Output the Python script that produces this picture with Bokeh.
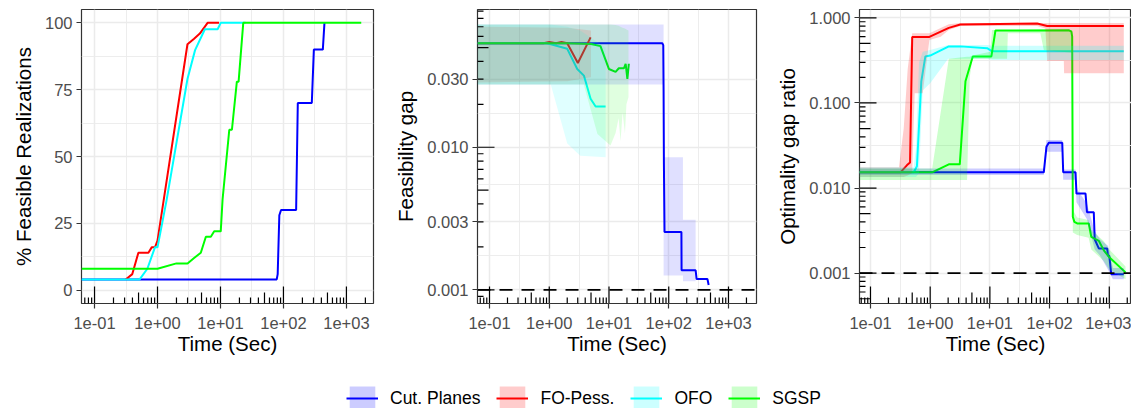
import numpy as np
from bokeh.plotting import figure
from bokeh.models import Range1d, FixedTicker, Legend, LegendItem, Span
from bokeh.layouts import column, row
from bokeh.embed import file_html
from bokeh.resources import INLINE

FONT = "Liberation Sans"

series_names = ["Cut. Planes", "FO-Pess.", "OFO", "SGSP"]
series_colors = ["#0000ff", "#ff0000", "#00ffff", "#00ff00"]

x_ticks = [0.1, 1, 10, 100, 1000]
x_tick_labels = ["1e-01", "1e+00", "1e+01", "1e+02", "1e+03"]
x_label = "Time (Sec)"

# ---------------- Panel 1: % feasible realizations ----------------
p1_ylabel = "% Feasible Realizations"
p1_yticks = [0, 25, 50, 75, 100]
p1_ytick_labels = ["0", "25", "50", "75", "100"]

feas_cp_t = [0.062, 78.2, 81, 86, 91.6, 159, 169, 282, 304, 422, 448]
feas_cp_v = [4, 4, 6, 28, 30, 30, 70, 70, 90, 90, 100]
feas_fo_t = [0.312, 0.398, 0.497, 0.717, 0.809, 0.912, 1.0, 2.99, 3.77, 4.7, 6.24, 9.5]
feas_fo_v = [4, 6, 14, 14, 16, 16, 18.5, 92, 94, 96, 100, 100]
feas_ofo_t = [0.062, 0.52, 0.69, 0.91, 1.0, 1.39, 2.99, 3.95, 5.65, 9.0, 10.1, 25]
feas_ofo_v = [4, 4, 8, 16, 16, 33.5, 79, 89.8, 97.6, 97.6, 100, 100]
feas_sg_t = [0.062, 1.0, 2.0, 3.0, 3.81, 4.87, 5.86, 7.03, 7.95, 10.1, 10.8, 13.8, 15.2, 18.2, 19.4, 23, 1720]
feas_sg_v = [8, 8, 10, 10, 12, 14, 20, 20, 22, 22, 34, 60, 60, 78, 78, 100, 100]

# ---------------- Panel 2: feasibility gap ----------------
p2_ylabel = "Feasibility gap"
p2_yticks = [0.001, 0.003, 0.01, 0.03]
p2_ytick_labels = ["0.001", "0.003", "0.010", "0.030"]
p2_threshold = 0.001

gap_cp_t = [0.063, 78, 81, 82, 83, 85, 163, 164, 282, 293, 444, 466]
gap_cp_g = [0.0536, 0.0536, 0.052, 0.025, 0.0077, 0.00254, 0.00254, 0.00137, 0.00137, 0.00119, 0.00119, 0.00108]
gap_fo_t = [0.063, 0.8, 1.0, 1.3, 1.6, 2.0, 3.01, 4.92]
gap_fo_g = [0.0536, 0.0536, 0.0548, 0.0536, 0.0548, 0.0536, 0.039, 0.059]
gap_ofo_t = [0.063, 0.925, 2.0, 2.94, 3.8, 4.92, 5.97, 8.77]
gap_ofo_g = [0.0536, 0.0536, 0.049, 0.0354, 0.0318, 0.0219, 0.0193, 0.0193]
gap_sg_t = [0.063, 2.0, 5.0, 7.2, 9.96, 12.9, 14.6, 17.8, 19.0, 20.3, 21.5]
gap_sg_g = [0.0536, 0.0536, 0.053, 0.0512, 0.0354, 0.0338, 0.0358, 0.0358, 0.0385, 0.0302, 0.0385]

gap_cp_band_t = [0.063, 82, 82, 173, 173, 282]
gap_cp_band_lo = [0.0275, 0.0275, 0.00126, 0.00126, 0.00115, 0.00115]
gap_cp_band_hi = [0.0726, 0.0726, 0.0085, 0.0085, 0.0031, 0.0031]
gap_fo_band_t = [0.063, 2.0, 5.0]
gap_fo_band_lo = [0.0285, 0.029, 0.031]
gap_fo_band_hi = [0.0700, 0.069, 0.066]
gap_ofo_band_t = [0.063, 1.06, 2.0, 3.3, 8.8]
gap_ofo_band_lo = [0.0275, 0.0275, 0.0106, 0.0087, 0.0085]
gap_ofo_band_hi = [0.0726, 0.0726, 0.070, 0.066, 0.050]
gap_sg_band_t = [0.063, 3.78, 6.4, 10.6, 12.9, 14.5, 15.6, 16.9, 18.5, 19.6, 21.2]
gap_sg_band_lo = [0.0275, 0.0275, 0.0124, 0.0103, 0.0126, 0.016, 0.011, 0.0175, 0.0125, 0.020, 0.0224]
gap_sg_band_hi = [0.0726, 0.0726, 0.0726, 0.0726, 0.072, 0.071, 0.070, 0.069, 0.068, 0.067, 0.066]

# ---------------- Panel 3: optimality gap ratio ----------------
p3_ylabel = "Optimality gap ratio"
p3_yticks = [0.001, 0.01, 0.1, 1.0]
p3_ytick_labels = ["0.001", "0.010", "0.100", "1.000"]
p3_threshold = 0.001

opt_cp_t = [0.065, 80, 88.7, 97, 163, 169, 272, 282, 400, 423, 550, 570, 667, 922, 950, 1000, 1080, 1750]
opt_cp_r = [0.0153, 0.0153, 0.0306, 0.034, 0.034, 0.0153, 0.0153, 0.0086, 0.0086, 0.0052, 0.0052, 0.0025,
            0.00195, 0.00195, 0.0016, 0.0016, 0.00097, 0.00097]
opt_fo_t = [0.065, 0.318, 0.41, 0.46, 0.50, 0.97, 2.05, 3.2, 62, 91, 1750]
opt_fo_r = [0.0153, 0.0153, 0.0186, 0.020, 0.597, 0.597, 0.762, 0.834, 0.856, 0.80, 0.80]
opt_ofo_t = [0.065, 0.53, 0.60, 0.71, 0.83, 1.0, 2.05, 3.2, 9.0, 10.9, 1750]
opt_ofo_r = [0.0153, 0.0153, 0.018, 0.179, 0.352, 0.36, 0.462, 0.462, 0.44, 0.404, 0.404]
opt_sg_t = [0.065, 1.08, 2.05, 3.13, 3.9, 5.17, 10.6, 12.4, 212, 232, 239, 245, 260, 290, 453, 500, 667, 810, 990, 1870]
opt_sg_r = [0.0153, 0.0153, 0.019, 0.019, 0.18, 0.352, 0.352, 0.71, 0.714, 0.69, 0.6, 0.0046, 0.004, 0.00383,
            0.00383, 0.00266, 0.0024, 0.00185, 0.00155, 0.00102]

opt_cp_band_t = [0.065, 80, 88, 97, 163, 169, 272, 282, 423, 570, 700, 950, 1150, 1750]
opt_cp_band_lo = [0.0142, 0.0142, 0.0267, 0.0267, 0.0267, 0.0125, 0.0125, 0.0068, 0.0043, 0.0019, 0.0016, 0.0011, 0.00085, 0.00085]
opt_cp_band_hi = [0.0170, 0.0170, 0.0367, 0.0367, 0.0367, 0.0165, 0.0165, 0.0100, 0.0065, 0.0031, 0.0025, 0.0021, 0.00115, 0.00115]
opt_fo_band_t = [0.065, 0.30, 0.36, 0.42, 0.50, 0.55, 0.75, 0.97, 1.5, 2.05, 3.2, 62, 85, 91, 173, 175, 1750]
opt_fo_band_lo = [0.0135, 0.0135, 0.0135, 0.0140, 0.0150, 0.13, 0.13, 0.55, 0.60, 0.72, 0.80, 0.80, 0.75, 0.31, 0.31, 0.224, 0.224]
opt_fo_band_hi = [0.0175, 0.0175, 0.05, 0.25, 0.66, 0.66, 0.66, 0.66, 0.76, 0.84, 0.87, 0.87, 0.87, 0.87, 0.87, 0.87, 0.87]
opt_ofo_band_t = [0.065, 0.53, 0.58, 0.65, 0.75, 1.0, 2.0, 9, 11, 1750]
opt_ofo_band_lo = [0.0135, 0.0135, 0.0135, 0.0150, 0.14, 0.17, 0.33, 0.33, 0.32, 0.32]
opt_ofo_band_hi = [0.0175, 0.0175, 0.03, 0.30, 0.40, 0.42, 0.48, 0.48, 0.47, 0.47]
opt_sg_band_t = [0.065, 1.08, 2.05, 4.15, 4.6, 5.1, 10.2, 10.8, 19.4, 20, 70, 80, 239, 245, 290, 450, 500, 800, 1000, 1870]
opt_sg_band_lo = [0.0124, 0.0124, 0.0124, 0.0124, 0.2, 0.33, 0.33, 0.33, 0.33, 0.66, 0.66, 0.42, 0.39, 0.0030,
                  0.0028, 0.0026, 0.0019, 0.0014, 0.0011, 0.00085]
opt_sg_band_hi = [0.017, 0.017, 0.33, 0.35, 0.35, 0.36, 0.40, 0.72, 0.72, 0.72, 0.72, 0.72, 0.72, 0.0055,
                  0.0045, 0.0042, 0.0032, 0.0024, 0.0019, 0.0012]

# ---------------- layout constants ----------------
FH = 294
LONG, MID, SHORT = 17, 11, 6


def style_panel(p, ylabel, yticks, ylabels, ylog):
    p.outline_line_color = "#333333"
    p.outline_line_width = 1.2
    xminor = [np.sqrt(a * b) for a, b in zip([0.01] + x_ticks, x_ticks + [10000])]
    p.xaxis.ticker = FixedTicker(ticks=x_ticks, minor_ticks=xminor)
    p.xaxis.major_label_overrides = dict(zip(x_ticks, x_tick_labels))
    if ylog:
        ext = [yticks[0] / 10] + list(yticks) + [yticks[-1] * 10]
        yminor = [np.sqrt(a * b) for a, b in zip(ext[:-1], ext[1:])]
    else:
        step = yticks[1] - yticks[0]
        yminor = [t + step / 2 for t in yticks[:-1]]
    p.yaxis.ticker = FixedTicker(ticks=yticks, minor_ticks=yminor)
    p.yaxis.major_label_overrides = dict(zip(yticks, ylabels))
    p.xaxis.axis_label = x_label
    p.yaxis.axis_label = ylabel
    for ax in (p.xaxis, p.yaxis):
        ax.axis_line_color = None
        ax.major_tick_out = 5
        ax.major_tick_in = 0
        ax.major_tick_line_color = "#333333"
        ax.major_tick_line_width = 1.2
        ax.minor_tick_line_color = None
        ax.major_label_text_font = FONT
        ax.major_label_text_font_size = "16.5px"
        ax.major_label_text_color = "#4d4d4d"
        ax.axis_label_text_font = FONT
        ax.axis_label_text_font_size = "20.5px"
        ax.axis_label_text_font_style = "normal"
        ax.axis_label_text_color = "black"
    p.xaxis.major_label_standoff = 8
    p.xaxis.axis_label_standoff = 0
    p.yaxis.major_label_standoff = 4
    p.yaxis.axis_label_standoff = 7
    for g in (p.xgrid, p.ygrid):
        g.grid_line_color = "#ebebeb"
        g.grid_line_width = 1.5
        g.minor_grid_line_color = "#ebebeb"
        g.minor_grid_line_width = 0.9


def log_positions(lo, hi):
    pos, lens = [], []
    for e in range(-5, 5):
        for m in range(1, 10):
            v = m * 10.0 ** e
            if lo <= v <= hi:
                pos.append(v)
                lens.append(LONG if m == 1 else (MID if m == 5 else SHORT))
    return pos, lens


def add_logticks(p, xr, yr, fw, ylog, left):
    xs, ls = log_positions(*xr)
    if ylog:
        dec = np.log10(yr[1]) - np.log10(yr[0])
        y1 = [yr[0] * 10 ** (L * dec / FH) for L in ls]
    else:
        y1 = [yr[0] + L * (yr[1] - yr[0]) / FH for L in ls]
    p.segment(x0=xs, y0=[yr[0]] * len(xs), x1=xs, y1=y1, line_color="black", line_width=1.2)
    if left:
        ys, ls2 = log_positions(*yr)
        xdec = np.log10(xr[1]) - np.log10(xr[0])
        x1 = [xr[0] * 10 ** (L * xdec / fw) for L in ls2]
        p.segment(x0=[xr[0]] * len(ys), y0=ys, x1=x1, y1=ys, line_color="black", line_width=1.2)


def make_fig(xr, yr, ylog, fw, bl, br):
    return figure(frame_width=fw, frame_height=FH, min_border_left=bl, min_border_right=br,
                  min_border_top=9, min_border_bottom=52,
                  x_axis_type="log", y_axis_type="log" if ylog else "linear",
                  x_range=Range1d(*xr), y_range=Range1d(*yr),
                  output_backend="svg", toolbar_location=None,
                  background_fill_color="white", border_fill_color="white")


def add_series(p, lines, bands, alpha):
    for (t, v), c in zip(lines, series_colors):
        p.line(t, v, line_color=c, line_width=2)
    for (t, lo, hi), c in zip(bands, series_colors):
        p.varea(x=t, y1=lo, y2=hi, fill_color=c, fill_alpha=alpha)


# Panel 1
xr1 = (10 ** -1.207, 10 ** 3.43)
yr1 = (-5.0, 105.0)
p1 = make_fig(xr1, yr1, False, 292, 81, 7)
style_panel(p1, p1_ylabel, p1_yticks, p1_ytick_labels, False)
add_series(p1, [(feas_cp_t, feas_cp_v), (feas_fo_t, feas_fo_v), (feas_ofo_t, feas_ofo_v),
                (feas_sg_t, feas_sg_v)], [], 0.2)
add_logticks(p1, xr1, yr1, 292, False, False)

# Panel 2
xr2 = (10 ** -1.201, 10 ** 3.469)
yr2 = (10 ** -3.096, 10 ** -1.034)
p2 = make_fig(xr2, yr2, True, 279, 97, 8)
style_panel(p2, p2_ylabel, p2_yticks, p2_ytick_labels, True)
add_series(p2, [(gap_cp_t, gap_cp_g), (gap_fo_t, gap_fo_g), (gap_ofo_t, gap_ofo_g), (gap_sg_t, gap_sg_g)],
           [(gap_cp_band_t, gap_cp_band_lo, gap_cp_band_hi),
            (gap_fo_band_t, gap_fo_band_lo, gap_fo_band_hi),
            (gap_ofo_band_t, gap_ofo_band_lo, gap_ofo_band_hi),
            (gap_sg_band_t, gap_sg_band_lo, gap_sg_band_hi)], 0.12)
p2.add_layout(Span(location=p2_threshold, dimension="width", line_color="black",
                   line_dash="13 9", line_width=1.8))
add_logticks(p2, xr2, yr2, 279, True, True)

# Panel 3
xr3 = (10 ** -1.184, 10 ** (-1.184 + 272 / 59.7))
yr3 = (10 ** -3.357, 10 ** 0.098)
p3 = make_fig(xr3, yr3, True, 272, 95, 0)
style_panel(p3, p3_ylabel, p3_yticks, p3_ytick_labels, True)
add_series(p3, [(opt_cp_t, opt_cp_r), (opt_fo_t, opt_fo_r), (opt_ofo_t, opt_ofo_r), (opt_sg_t, opt_sg_r)],
           [(opt_cp_band_t, opt_cp_band_lo, opt_cp_band_hi),
            (opt_fo_band_t, opt_fo_band_lo, opt_fo_band_hi),
            (opt_ofo_band_t, opt_ofo_band_lo, opt_ofo_band_hi),
            (opt_sg_band_t, opt_sg_band_lo, opt_sg_band_hi)], 0.2)
p3.add_layout(Span(location=p3_threshold, dimension="width", line_color="black",
                   line_dash="13 9", line_width=1.8))
add_logticks(p3, xr3, yr3, 272, True, True)

# Legend strip
lf = figure(width=1131, height=53, min_border=0, x_range=Range1d(0, 1), y_range=Range1d(0, 1),
            output_backend="svg", toolbar_location=None)
lf.axis.visible = False
lf.grid.visible = False
lf.outline_line_color = None
items = []
for name, c in zip(series_names, series_colors):
    # dummy glyphs placed outside the visible range, used only for the legend keys
    rb = lf.varea(x=[5, 6], y1=[5, 5], y2=[6, 6], fill_color=c, fill_alpha=0.2)
    rl = lf.line(x=[5, 6], y=[5, 5], line_color=c, line_width=2)
    items.append(LegendItem(label=name, renderers=[rb, rl]))
legend = Legend(items=items, orientation="horizontal", location=(346, -3),
                glyph_width=32, glyph_height=30, label_standoff=12, spacing=16,
                padding=0, margin=0, border_line_color=None, background_fill_alpha=0,
                label_text_font=FONT, label_text_font_size="17.5px", label_text_color="black")
lf.add_layout(legend)

layout = column(row(p1, p2, p3), lf)
open("out.html", "w").write(file_html(layout, INLINE))
